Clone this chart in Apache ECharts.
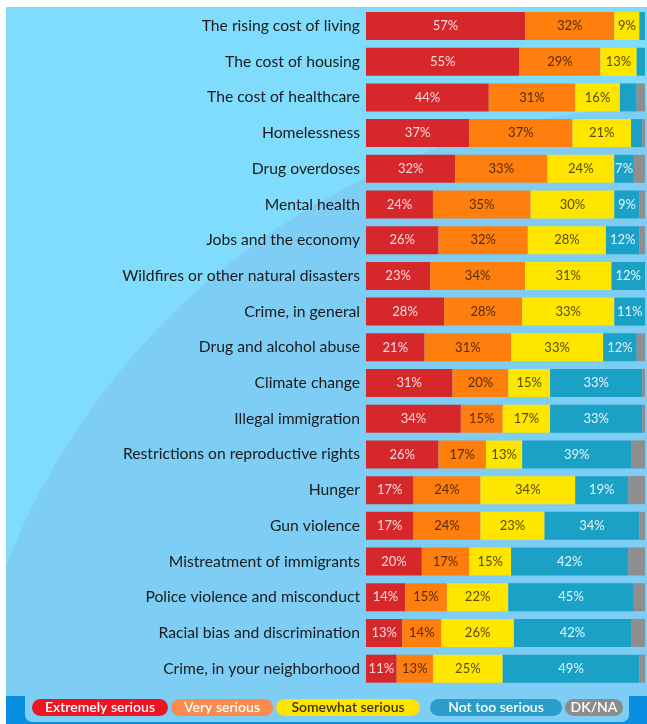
<!DOCTYPE html>
<html>
<head>
<meta charset="utf-8">
<script src="https://cdn.jsdelivr.net/npm/echarts@6/dist/echarts.min.js"></script>
<style>
  html, body { margin: 0; padding: 0; background: #ffffff; }
  #chart { width: 647px; height: 724px; }
</style>
</head>
<body>
<div id="chart"></div>
<script>
// Issues, top to bottom
const categories = [
  'The rising cost of living',
  'The cost of housing',
  'The cost of healthcare',
  'Homelessness',
  'Drug overdoses',
  'Mental health',
  'Jobs and the economy',
  'Wildfires or other natural disasters',
  'Crime, in general',
  'Drug and alcohol abuse',
  'Climate change',
  'Illegal immigration',
  'Restrictions on reproductive rights',
  'Hunger',
  'Gun violence',
  'Mistreatment of immigrants',
  'Police violence and misconduct',
  'Racial bias and discrimination',
  'Crime, in your neighborhood'
];

// Share of respondents (%) per rating
const extremelySerious = [57, 55, 44, 37, 32, 24, 26, 23, 28, 21, 31, 34, 26, 17, 17, 20, 14, 13, 11];
const verySerious      = [32, 29, 31, 37, 33, 35, 32, 34, 28, 31, 20, 15, 17, 24, 24, 17, 15, 14, 13];
const somewhatSerious  = [ 9, 13, 16, 21, 24, 30, 28, 31, 33, 33, 15, 17, 13, 34, 23, 15, 22, 26, 25];
const notTooSerious    = [ 2,  3,  6,  4,  7,  9, 12, 12, 11, 12, 33, 33, 39, 19, 34, 42, 45, 42, 49];
const dkNa             = [ 0,  0,  3,  1,  4,  2,  2,  0,  0,  3,  1,  1,  5,  6,  2,  6,  4,  5,  2];

const seriesNames = ['Extremely serious', 'Very serious', 'Somewhat serious', 'Not too serious', 'DK/NA'];

const barColors   = ['#d6272b', '#fe7f0e', '#ffe600', '#1ba1c6', '#8e8e8e'];
const labelColors = ['#f9dada', '#5a2a00', '#5a4a00', '#e2f4fb', null];
const pillColors  = ['#ee1424', '#fb8a4c', '#ffe400', '#2a9dcb', '#8c8c8c'];
const pillText    = ['#ffffff', '#ffffff', '#3c3300', '#ffffff', '#ffffff'];

const values = [extremelySerious, verySerious, somewhatSerious, notTooSerious, dkNa];

const FONT = 'Lato, "Open Sans", sans-serif';

const series = seriesNames.map((name, i) => ({
  name,
  type: 'bar',
  stack: 'total',
  barWidth: 28,
  data: values[i],
  itemStyle: { color: barColors[i] },
  label: {
    show: labelColors[i] !== null,
    position: 'inside',
    fontFamily: FONT,
    fontSize: 13,
    color: labelColors[i] || '#fff',
    formatter: p => (p.value >= 7 ? p.value + '%' : '')
  },
  emphasis: { disabled: true }
}));

// Legend pills along the bottom tab
const pillBoxes = [[32, 168], [171, 273], [276, 420], [430, 562], [565, 623]];
const legendGraphics = [];
seriesNames.forEach((name, i) => {
  const [x0, x1] = pillBoxes[i];
  legendGraphics.push({
    type: 'rect', z: 10,
    shape: { x: x0, y: 699, width: x1 - x0, height: 17, r: 8.5 },
    style: { fill: pillColors[i] }
  });
  legendGraphics.push({
    type: 'text', z: 11,
    x: (x0 + x1) / 2, y: 707.5,
    style: {
      text: name, fill: pillText[i], font: '600 14px ' + FONT,
      align: 'center', verticalAlign: 'middle'
    }
  });
});

const chart = echarts.init(document.getElementById('chart'), null, { renderer: 'canvas' });
chart.setOption({
  animation: false,
  backgroundColor: '#ffffff',
  graphic: [
    // panel
    { type: 'rect', z: -10, silent: true, shape: { x: 6, y: 7, width: 641, height: 717 }, style: { fill: '#80dcfc' } },
    // large soft arc in the lower part of the panel
    { type: 'circle', z: -9, silent: true, shape: { cx: 680, cy: 830, r: 724 }, style: { fill: '#7ecdf5' } },
    // white page margin on the left
    { type: 'rect', z: -8, silent: true, shape: { x: 0, y: 0, width: 6, height: 724 }, style: { fill: '#ffffff' } },
    // dark footer band and the tab holding the legend
    { type: 'rect', z: -7, silent: true, shape: { x: 6, y: 696, width: 641, height: 28 }, style: { fill: '#0a8ee2' } },
    { type: 'rect', z: -6, silent: true, shape: { x: 25, y: 680, width: 604, height: 42, r: [0, 0, 7, 7] }, style: { fill: '#7ecdf5' } },
    ...legendGraphics
  ],
  grid: { left: 366, right: 2, top: 8.15, bottom: 37.5, containLabel: false },
  xAxis: {
    type: 'value', min: 0, max: 100, show: false
  },
  yAxis: {
    type: 'category',
    data: categories,
    inverse: true,
    axisLine: { show: false },
    axisTick: { show: false },
    splitLine: { show: false },
    axisLabel: {
      margin: 6,
      fontFamily: FONT,
      fontSize: 15.7,
      color: '#1a1a1a'
    }
  },
  series
});
</script>
</body>
</html>
